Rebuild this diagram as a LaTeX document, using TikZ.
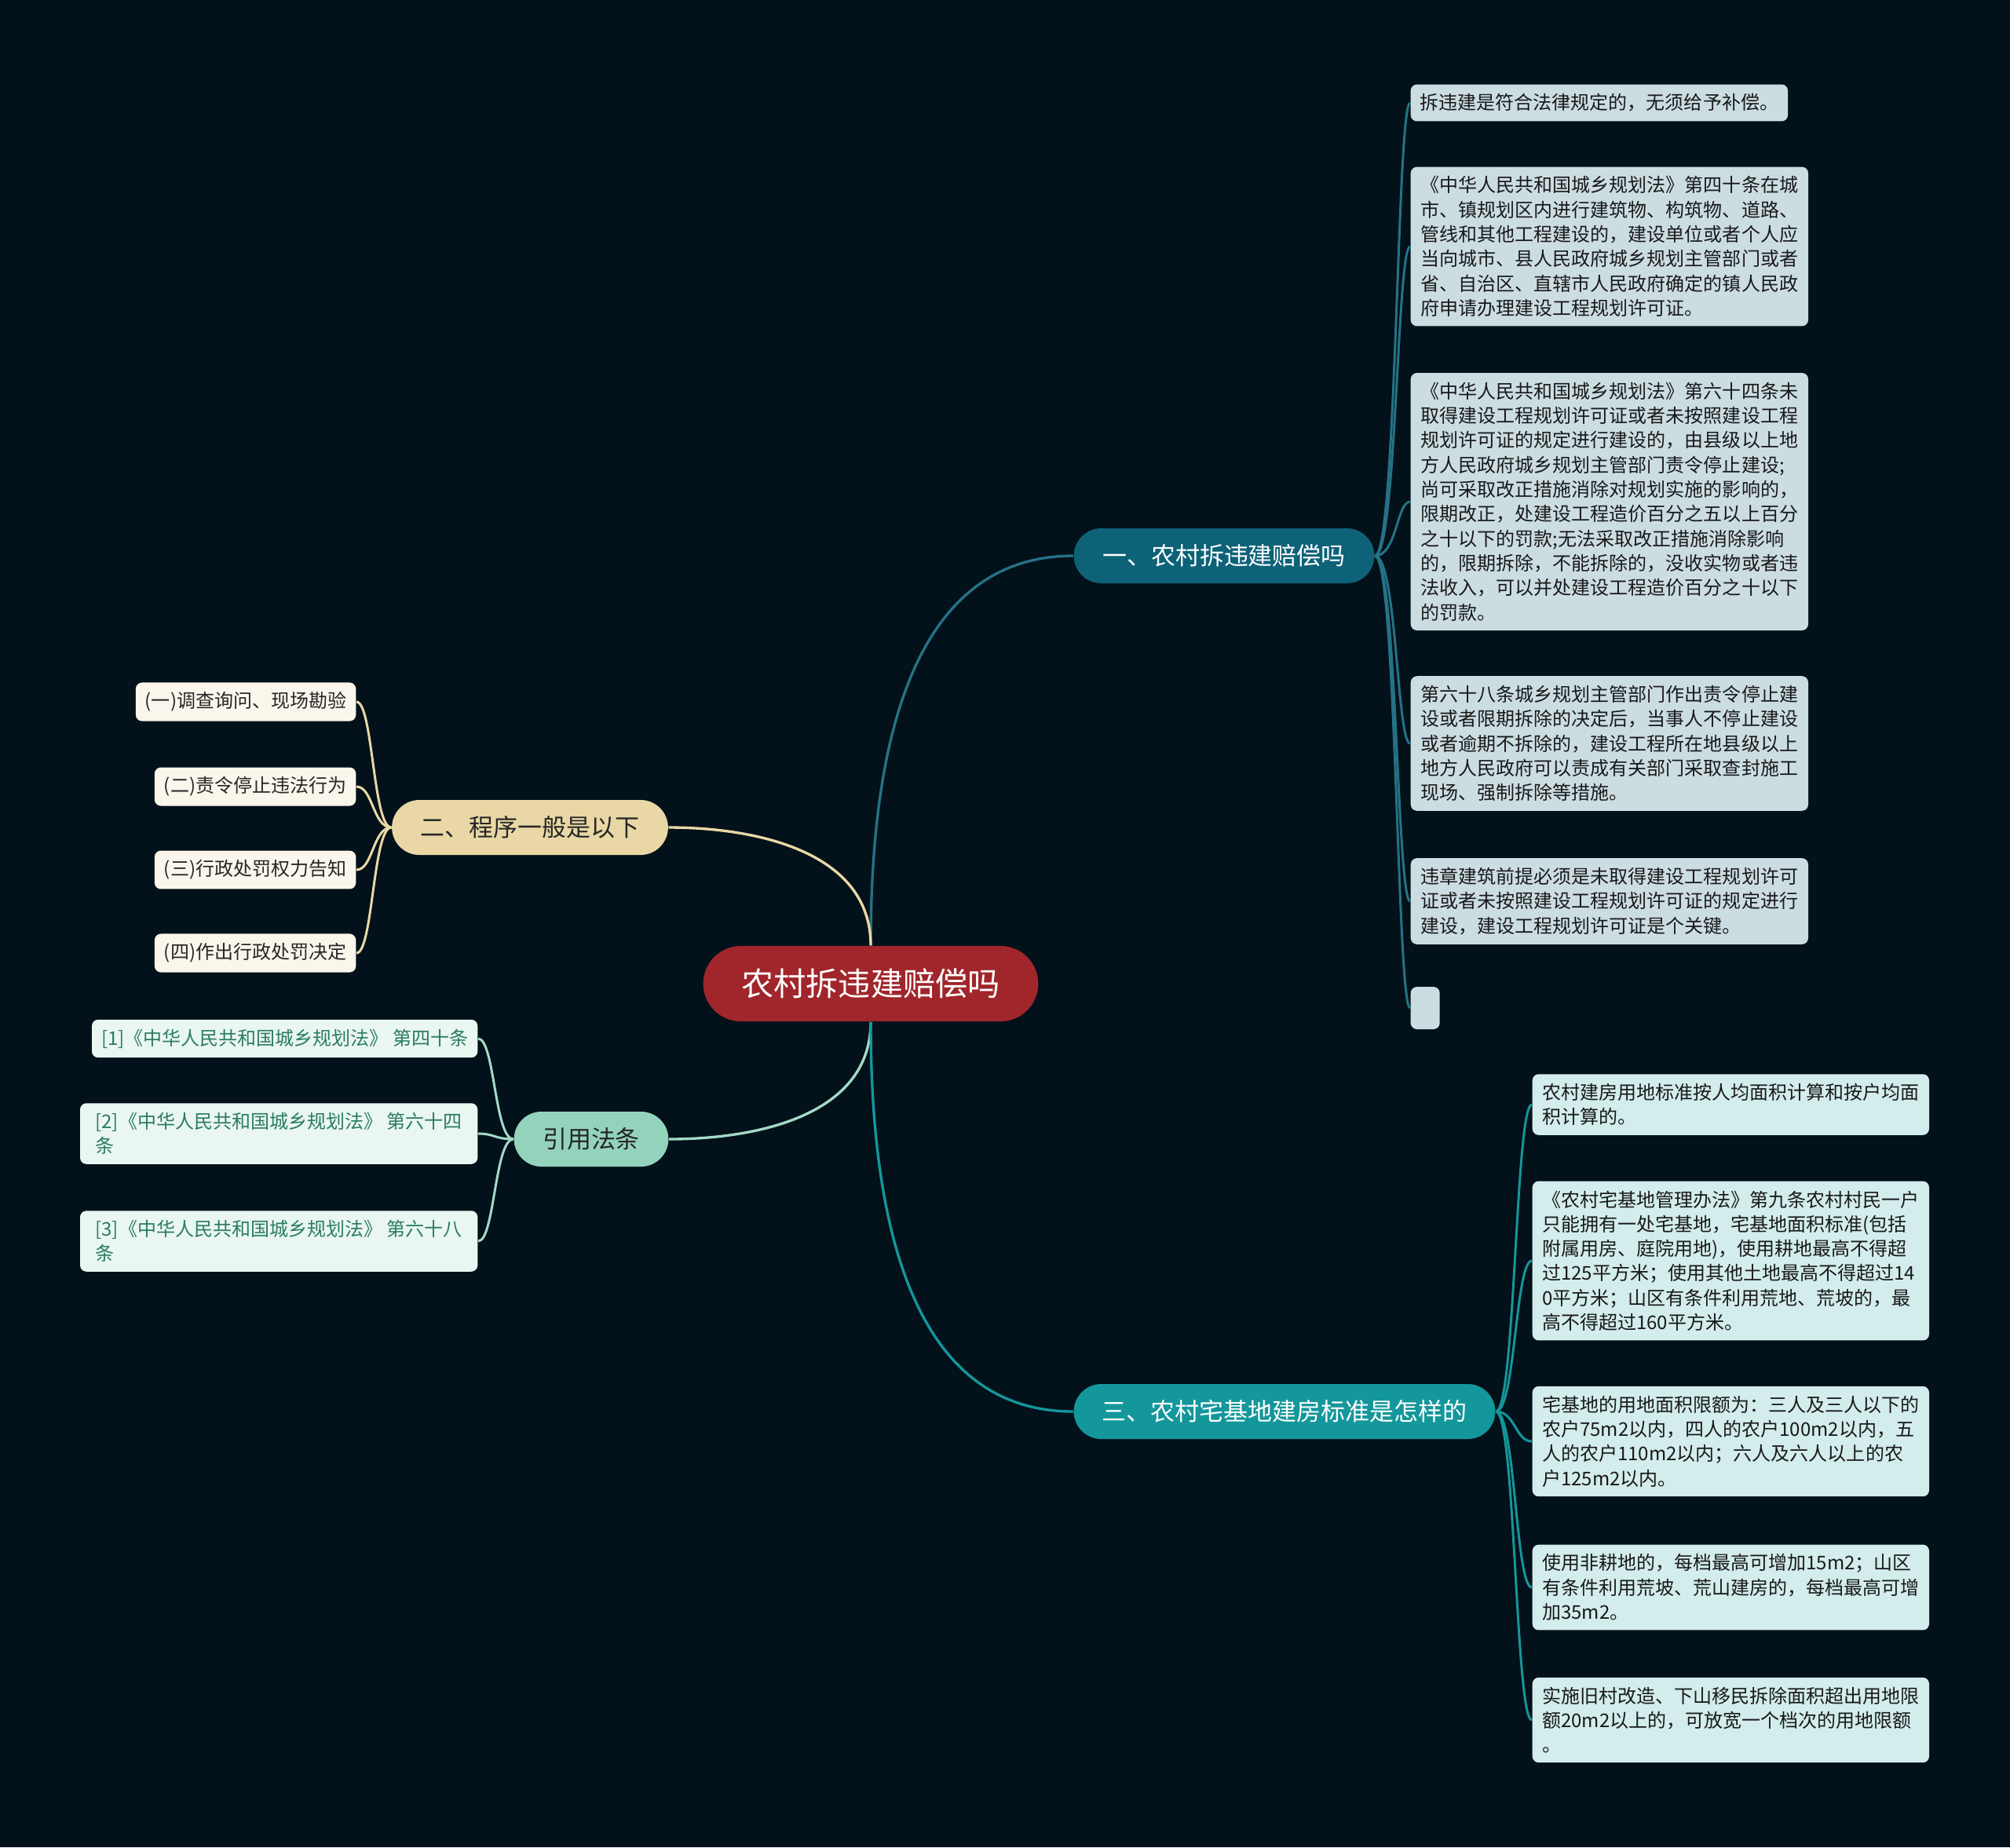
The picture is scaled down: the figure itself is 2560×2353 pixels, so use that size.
\documentclass[tikz,border=0pt]{standalone}
\usepackage{fontspec}
\setmainfont{Noto Sans CJK SC}
\usepackage{xcolor}
\usepackage{tikz}
\usetikzlibrary{shapes.misc,calc}
\definecolor{mapBg}{HTML}{03111A}
\definecolor{mapRoot}{HTML}{A0262B}
\definecolor{mapPetrol}{HTML}{0D6278}
\definecolor{mapTeal}{HTML}{13979B}
\definecolor{mapSand}{HTML}{E9D8A6}
\definecolor{mapMint}{HTML}{93D3BC}
\definecolor{leafPetrol}{HTML}{CCDDE2}
\definecolor{leafTeal}{HTML}{D3ECEC}
\definecolor{leafSand}{HTML}{FBF6EC}
\definecolor{leafMint}{HTML}{EAF6F1}
\definecolor{textMint}{HTML}{2B7D5E}
\tikzset{
  central/.style={rounded rectangle, fill=mapRoot, text=white,
        minimum width=4.50cm, minimum height=0.96cm,
        font=\fontsize{11.7}{13}\selectfont},
  topic/.style={rounded rectangle, minimum height=0.70cm,
        font=\fontsize{8.8}{10}\selectfont},
  leaf/.style={rounded corners=0.08cm, align=left, inner xsep=0.12cm,
        inner ysep=0.12cm, text=black!90,
        font=\fontsize{6.83}{8.9}\selectfont},
  mainlink/.style={line width=0.95pt},
  leaflink/.style={line width=0.85pt}
}

\begin{document}
\begin{tikzpicture}[x=0.01cm, y=-0.01cm,
  petrolleaf/.style={leaf, fill=leafPetrol, anchor=west},
  tealleaf/.style={leaf, fill=leafTeal, anchor=west, minimum width=5.05cm},
  sandleaf/.style={leaf, fill=leafSand, anchor=east, text=black!85},
  mintleaf/.style={leaf, fill=leafMint, anchor=east, text=textMint}
]
\fill[mapBg] (0,0) rectangle (2560,2353);

% centre
\node[central] (root) at (1109,1253) {农村拆违建赔偿吗};

% first branch
\node[topic, fill=mapPetrol, text=white, minimum width=4.06cm] (b1) at (1559,708) {一、农村拆违建赔偿吗};
\node[petrolleaf] (l1) at (1796,131) {拆违建是符合法律规定的，无须给予补偿。};
\node[petrolleaf, minimum width=5.06cm] (l2) at (1796,314) {《中华人民共和国城乡规划法》第四十条在城\\市、镇规划区内进行建筑物、构筑物、道路、\\管线和其他工程建设的，建设单位或者个人应\\当向城市、县人民政府城乡规划主管部门或者\\省、自治区、直辖市人民政府确定的镇人民政\\府申请办理建设工程规划许可证。};
\node[petrolleaf, minimum width=5.06cm] (l3) at (1796,639) {《中华人民共和国城乡规划法》第六十四条未\\取得建设工程规划许可证或者未按照建设工程\\规划许可证的规定进行建设的，由县级以上地\\方人民政府城乡规划主管部门责令停止建设;\\尚可采取改正措施消除对规划实施的影响的，\\限期改正，处建设工程造价百分之五以上百分\\之十以下的罚款;无法采取改正措施消除影响\\的，限期拆除，不能拆除的，没收实物或者违\\法收入，可以并处建设工程造价百分之十以下\\的罚款。};
\node[petrolleaf, minimum width=5.06cm] (l4) at (1796,947) {第六十八条城乡规划主管部门作出责令停止建\\设或者限期拆除的决定后，当事人不停止建设\\或者逾期不拆除的，建设工程所在地县级以上\\地方人民政府可以责成有关部门采取查封施工\\现场、强制拆除等措施。};
\node[petrolleaf, minimum width=5.06cm] (l5) at (1796,1148) {违章建筑前提必须是未取得建设工程规划许可\\证或者未按照建设工程规划许可证的规定进行\\建设，建设工程规划许可证是个关键。};
\node[petrolleaf, minimum width=0.37cm, minimum height=0.54cm] (l6) at (1796,1284) {};

% second branch
\node[topic, fill=mapSand, text=black!85, minimum width=3.75cm] (b2) at (675,1054) {二、程序一般是以下};
\node[sandleaf] (p1) at (454,894) {(一)调查询问、现场勘验};
\node[sandleaf] (p2) at (454,1002) {(二)责令停止违法行为};
\node[sandleaf] (p3) at (454,1108) {(三)行政处罚权力告知};
\node[sandleaf] (p4) at (454,1214) {(四)作出行政处罚决定};

% cited articles
\node[topic, fill=mapMint, text=black!85, minimum width=2.20cm] (b4) at (753,1451) {引用法条};
\node[mintleaf] (r1) at (609,1323) {[1]《中华人民共和国城乡规划法》 第四十条};
\node[mintleaf, minimum width=5.06cm] (r2) at (609,1444) {[2]《中华人民共和国城乡规划法》 第六十四\\条};
\node[mintleaf, minimum width=5.06cm] (r3) at (609,1581) {[3]《中华人民共和国城乡规划法》 第六十八\\条};

% third branch
\node[topic, fill=mapTeal, text=white, minimum width=5.60cm] (b3) at (1636,1798) {三、农村宅基地建房标准是怎样的};
\node[tealleaf] (m1) at (1951,1407) {农村建房用地标准按人均面积计算和按户均面\\积计算的。};
\node[tealleaf] (m2) at (1951,1606) {《农村宅基地管理办法》第九条农村村民一户\\只能拥有一处宅基地，宅基地面积标准(包括\\附属用房、庭院用地)，使用耕地最高不得超\\过125平方米；使用其他土地最高不得超过14\\0平方米；山区有条件利用荒地、荒坡的，最\\高不得超过160平方米。};
\node[tealleaf] (m3) at (1951,1836) {宅基地的用地面积限额为：三人及三人以下的\\农户75m2以内，四人的农户100m2以内，五\\人的农户110m2以内；六人及六人以上的农\\户125m2以内。};
\node[tealleaf] (m4) at (1951,2022) {使用非耕地的，每档最高可增加15m2；山区\\有条件利用荒坡、荒山建房的，每档最高可增\\加35m2。};
\node[tealleaf] (m5) at (1951,2191) {实施旧村改造、下山移民拆除面积超出用地限\\额20m2以上的，可放宽一个档次的用地限额\\。};

% links from the centre
\draw[mainlink, mapPetrol!90!white] (root.north) .. controls +(0,-220) and +(-220,0) .. (b1.west);
\draw[mainlink, mapSand] (root.north) .. controls +(0,-117) and +(117,0) .. (b2.east);
\draw[mainlink, mapMint!85!white] (root.south) .. controls +(0,117) and +(117,0) .. (b4.east);
\draw[mainlink, mapTeal] (root.south) .. controls +(0,220) and +(-220,0) .. (b3.west);

% links to the leaves
\coordinate (t1) at (1779,708);
\coordinate (t2) at (475,1054);
\coordinate (t4) at (630,1451);
\coordinate (t3) at (1930,1798);
\foreach \n in {l1,l2,l3,l4,l5,l6}
  \draw[leaflink, mapPetrol!90!white] (b1.east) .. controls (t1) and (t1 |- \n.west) .. (\n.west);
\foreach \n in {p1,p2,p3,p4}
  \draw[leaflink, mapSand] (b2.west) .. controls (t2) and (t2 |- \n.east) .. (\n.east);
\foreach \n in {r1,r2,r3}
  \draw[leaflink, mapMint!85!white] (b4.west) .. controls (t4) and (t4 |- \n.east) .. (\n.east);
\foreach \n in {m1,m2,m3,m4,m5}
  \draw[leaflink, mapTeal] (b3.east) .. controls (t3) and (t3 |- \n.west) .. (\n.west);
\end{tikzpicture}
\end{document}
